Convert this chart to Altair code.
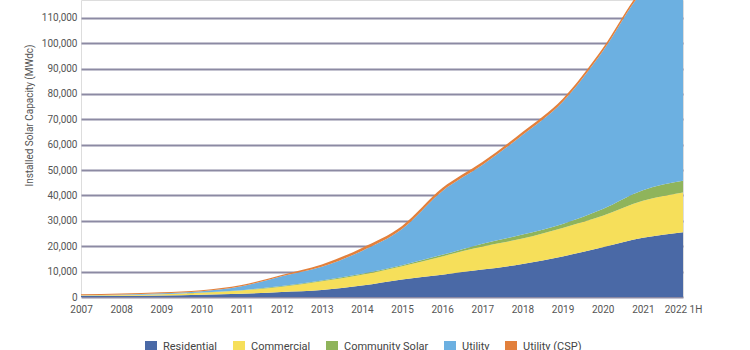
import altair as alt
import pandas as pd

years = ["2007", "2008", "2009", "2010", "2011", "2012", "2013", "2014",
         "2015", "2016", "2017", "2018", "2019", "2020", "2021", "2022 1H"]
residential = [350, 450, 600, 900, 1300, 2000, 2800, 4500, 6900, 8800, 10800, 13000, 16000, 19600, 23300, 25500]
commercial = [250, 350, 500, 800, 1300, 2000, 3400, 4300, 5200, 7200, 9100, 10000, 11200, 12400, 14600, 15700]
community = [20, 20, 30, 50, 100, 300, 300, 350, 400, 600, 1100, 1600, 1600, 2700, 4200, 4600]
utility = [80, 180, 320, 500, 1500, 3900, 5400, 9000, 14300, 25100, 31000, 39200, 48000, 62100, 78200, 83000]
utility_csp = [400, 400, 450, 450, 500, 500, 900, 1200, 1200, 1200, 1200, 1200, 1200, 1200, 1200, 1200]

series = ["Residential", "Commercial", "Community Solar", "Utility", "Utility (CSP)"]
colors = ["#4a69a6", "#f6df5a", "#8fb45b", "#6cb0e1", "#e2803c"]
values = [residential, commercial, community, utility, utility_csp]

rows = []
for si, (name, vals) in enumerate(zip(series, values)):
    for y, v in zip(years, vals):
        rows.append({"year": y, "segment": name, "value": v, "order": si})
df = pd.DataFrame(rows)

chart = alt.Chart(df).mark_area(interpolate="monotone", clip=True).encode(
    x=alt.X("year:N", sort=years, scale=alt.Scale(type="point", padding=0),
            axis=alt.Axis(title=None, labelAngle=0, ticks=False, domain=False,
                          labelFontSize=10, labelColor="#555555", labelPadding=7,
                          labelFont="Roboto")),
    y=alt.Y("value:Q", stack="zero",
            scale=alt.Scale(domain=[0, 117000], nice=False, zero=True),
            axis=alt.Axis(title="Installed Solar Capacity (MWdc)", values=list(range(0, 110001, 10000)),
                          format=",.0f", ticks=False, domain=False, labelFontSize=10,
                          labelColor="#555555", labelPadding=4, labelFont="Roboto",
                          gridColor="#8c8aa3", gridWidth=2, titleFont="Roboto",
                          titleFontSize=10, titleFontWeight="normal", titleColor="#555555",
                          titleX=-52, titleY=115, titleAlign="center", titleBaseline="middle",
                          titleAngle=-90)),
    color=alt.Color("segment:N", sort=series,
                    scale=alt.Scale(domain=series, range=colors),
                    legend=alt.Legend(title=None, orient="none", direction="horizontal",
                                      legendX=64, legendY=341, symbolType="square",
                                      symbolSize=144, symbolStrokeWidth=0, labelFontSize=11,
                                      labelFont="Roboto", labelColor="#444444",
                                      columnPadding=15, labelOffset=6)),
    order=alt.Order("order:Q"),
).properties(
    width=602, height=297,
    autosize=alt.AutoSizeParams(type="none"),
    padding={"left": 81, "top": 0, "right": 67, "bottom": 53},
).configure_view(
    fill="#eff3f8", stroke=None
).configure(background="white")

chart.save("out.html", embed_options={"renderer": "svg", "actions": False})
